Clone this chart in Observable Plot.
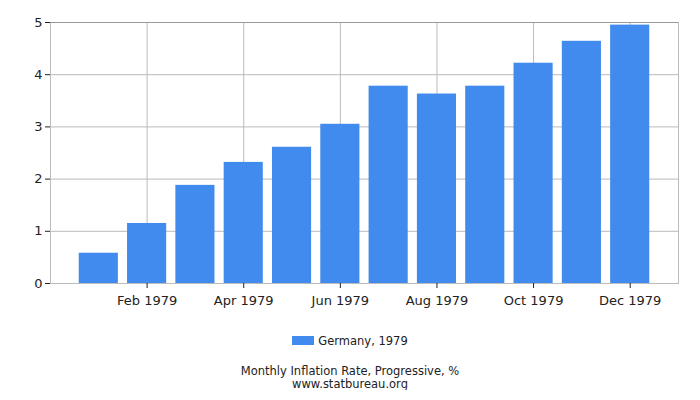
<!DOCTYPE html>
<html>
<head>
<meta charset="utf-8">
<script src="https://cdn.jsdelivr.net/npm/d3@7"></script>
<script src="https://cdn.jsdelivr.net/npm/@observablehq/plot@0.6"></script>
<style>
  body { margin: 0; background: #fff; font-family: "DejaVu Sans", sans-serif; }
  #chart { height: 315px; }
  #chart svg { display: block; }
  #legend { margin-top: 19px; height: 14px; width: 700px; text-align: center; font-size: 11.5px; line-height: 14px; color: #222; }
  #legend .sw { display: inline-block; width: 22px; height: 9px; background: #428BEE; vertical-align: 0px; margin-right: 4px; }
  #caption { margin-top: 17px; width: 700px; text-align: center; font-size: 11.5px; line-height: 12.5px; color: #222; }
</style>
</head>
<body>
<div id="chart"></div>
<div id="legend"><span class="sw"></span>Germany, 1979</div>
<div id="caption">Monthly Inflation Rate, Progressive, %<br>www.statbureau.org</div>
<script>
const months = ["Jan 1979","Feb 1979","Mar 1979","Apr 1979","May 1979","Jun 1979","Jul 1979","Aug 1979","Sep 1979","Oct 1979","Nov 1979","Dec 1979"];
const values = [0.58, 1.15, 1.88, 2.32, 2.61, 3.05, 3.78, 3.63, 3.78, 4.22, 4.64, 4.95];
const xTicks = ["Feb 1979","Apr 1979","Jun 1979","Aug 1979","Oct 1979","Dec 1979"];
const yTicks = [0, 1, 2, 3, 4, 5];

const data = months.map((m, i) => ({month: m, value: values[i]}));

const chart = Plot.plot({
  width: 700,
  height: 315,
  marginLeft: 50,
  marginRight: 22,
  marginTop: 22,
  marginBottom: 32,
  style: {fontFamily: "DejaVu Sans, sans-serif", fontSize: "13px", color: "#222", background: "#fff"},
  x: {domain: months, paddingInner: 0.19, paddingOuter: 0.595, round: false, label: null},
  y: {domain: [0, 5], label: null},
  marks: [
    Plot.gridY(yTicks.slice(1), {stroke: "#bbb", strokeOpacity: 1}),
    Plot.gridX(xTicks, {stroke: "#bbb", strokeOpacity: 1}),
    Plot.barY(data, {x: "month", y: "value", fill: "#428BEE"}),
    Plot.frame({stroke: "#bbb"}),
    Plot.ruleY([5], {stroke: "#999"}),
    Plot.axisY({ticks: yTicks, tickFormat: d3.format("d"), tickSize: 5, tickPadding: 3, stroke: "#222", label: null, fontSize: 13}),
    Plot.axisX({ticks: xTicks, tickSize: 5, tickPadding: 7, stroke: "#222", label: null, fontSize: 13})
  ]
});
document.getElementById("chart").appendChild(chart);
</script>
</body>
</html>
